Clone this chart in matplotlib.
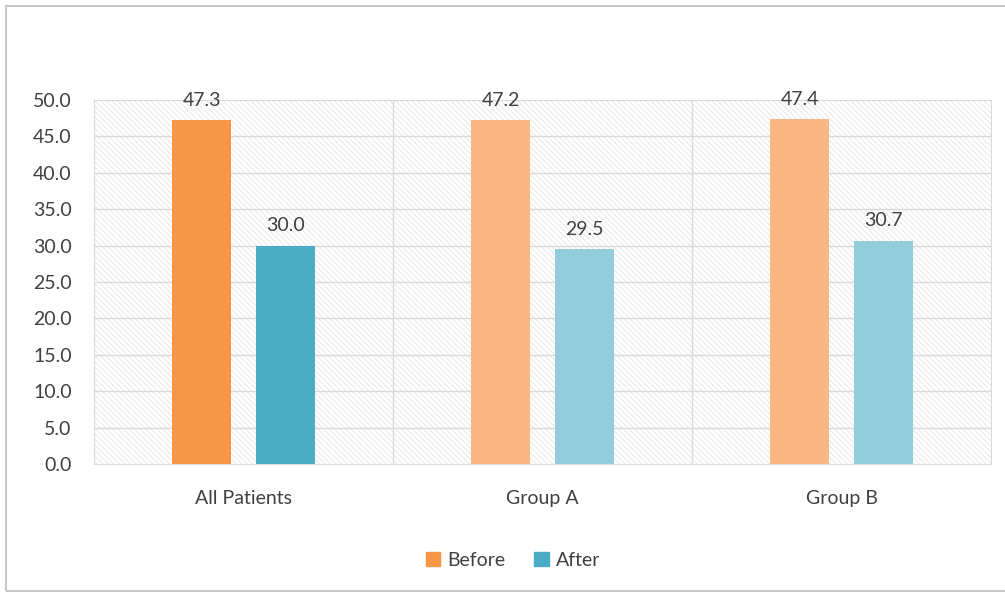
import matplotlib.pyplot as plt
from matplotlib.patches import Rectangle, Patch

categories = ["All Patients", "Group A", "Group B"]
before = [47.3, 47.2, 47.4]
after = [30.0, 29.5, 30.7]
yticks = [0, 5, 10, 15, 20, 25, 30, 35, 40, 45, 50]

orange = "#F79646"
blue = "#4BACC6"
orange_light = "#F9B883"
blue_light = "#92CDDC"

plt.rcParams['font.family'] = ['Lato', 'DejaVu Sans']
plt.rcParams['hatch.linewidth'] = 0.6

fig = plt.figure(figsize=(10.05, 5.92), dpi=100)
ax = fig.add_axes([94 / 1005, 1 - 464 / 592, (991 - 94) / 1005, (464 - 100) / 592])

# outer chart frame
fig.patches.append(Rectangle((6 / 1005, 1 / 592), 1.2, 1 - 7 / 592,
                             transform=fig.transFigure, fill=False,
                             edgecolor="#c8c8c8", linewidth=1.5))

# hatched plot background
ax.patch.set_visible(False)
ax.add_patch(Rectangle((0, 0), 1, 1, transform=ax.transAxes, facecolor="white",
                       edgecolor="#e4e4e4", hatch="\\\\\\\\\\\\", linewidth=0, zorder=0))

x = list(range(len(categories)))
w = 0.195
off = 0.14
bc = [orange, orange_light, orange_light]
ac = [blue, blue_light, blue_light]
b1 = ax.bar([i - off for i in x], before, w, color=bc, zorder=3)
b2 = ax.bar([i + off for i in x], after, w, color=ac, zorder=3)

for bars, vals in ((b1, before), (b2, after)):
    for r, v in zip(bars, vals):
        ax.annotate(f"{v:.1f}", (r.get_x() + r.get_width() / 2, v),
                    xytext=(0, 8), textcoords="offset points",
                    ha="center", va="bottom", fontsize=14, color="#404040")

ax.set_xlim(-0.5, 2.5)
ax.set_ylim(0, 50)
ax.set_yticks(yticks)
ax.set_yticklabels([f"{t:.1f}" for t in yticks], fontsize=14, color="#404040")
ax.set_xticks(x)
ax.set_xticklabels(categories, fontsize=14, color="#404040")
ax.tick_params(axis="both", length=0)
ax.tick_params(axis="x", pad=19)
ax.tick_params(axis="y", pad=16)

for t in yticks[1:-1]:
    ax.axhline(t, color="#d9d9d9", linewidth=1, zorder=1)
for s in (0.5, 1.5):
    ax.axvline(s, color="#d9d9d9", linewidth=1, zorder=1)
for sp in ax.spines.values():
    sp.set_color("#d9d9d9")

handles = [Patch(color=orange, label="Before"), Patch(color=blue, label="After")]
fig.legend(handles=handles, loc="center", bbox_to_anchor=(513 / 1005, 1 - 560 / 592),
           ncol=2, frameon=False, fontsize=14, handlelength=0.75, handleheight=0.75,
           handletextpad=0.35, columnspacing=1.5, labelcolor="#404040")

fig.savefig("out.png", dpi=100)
